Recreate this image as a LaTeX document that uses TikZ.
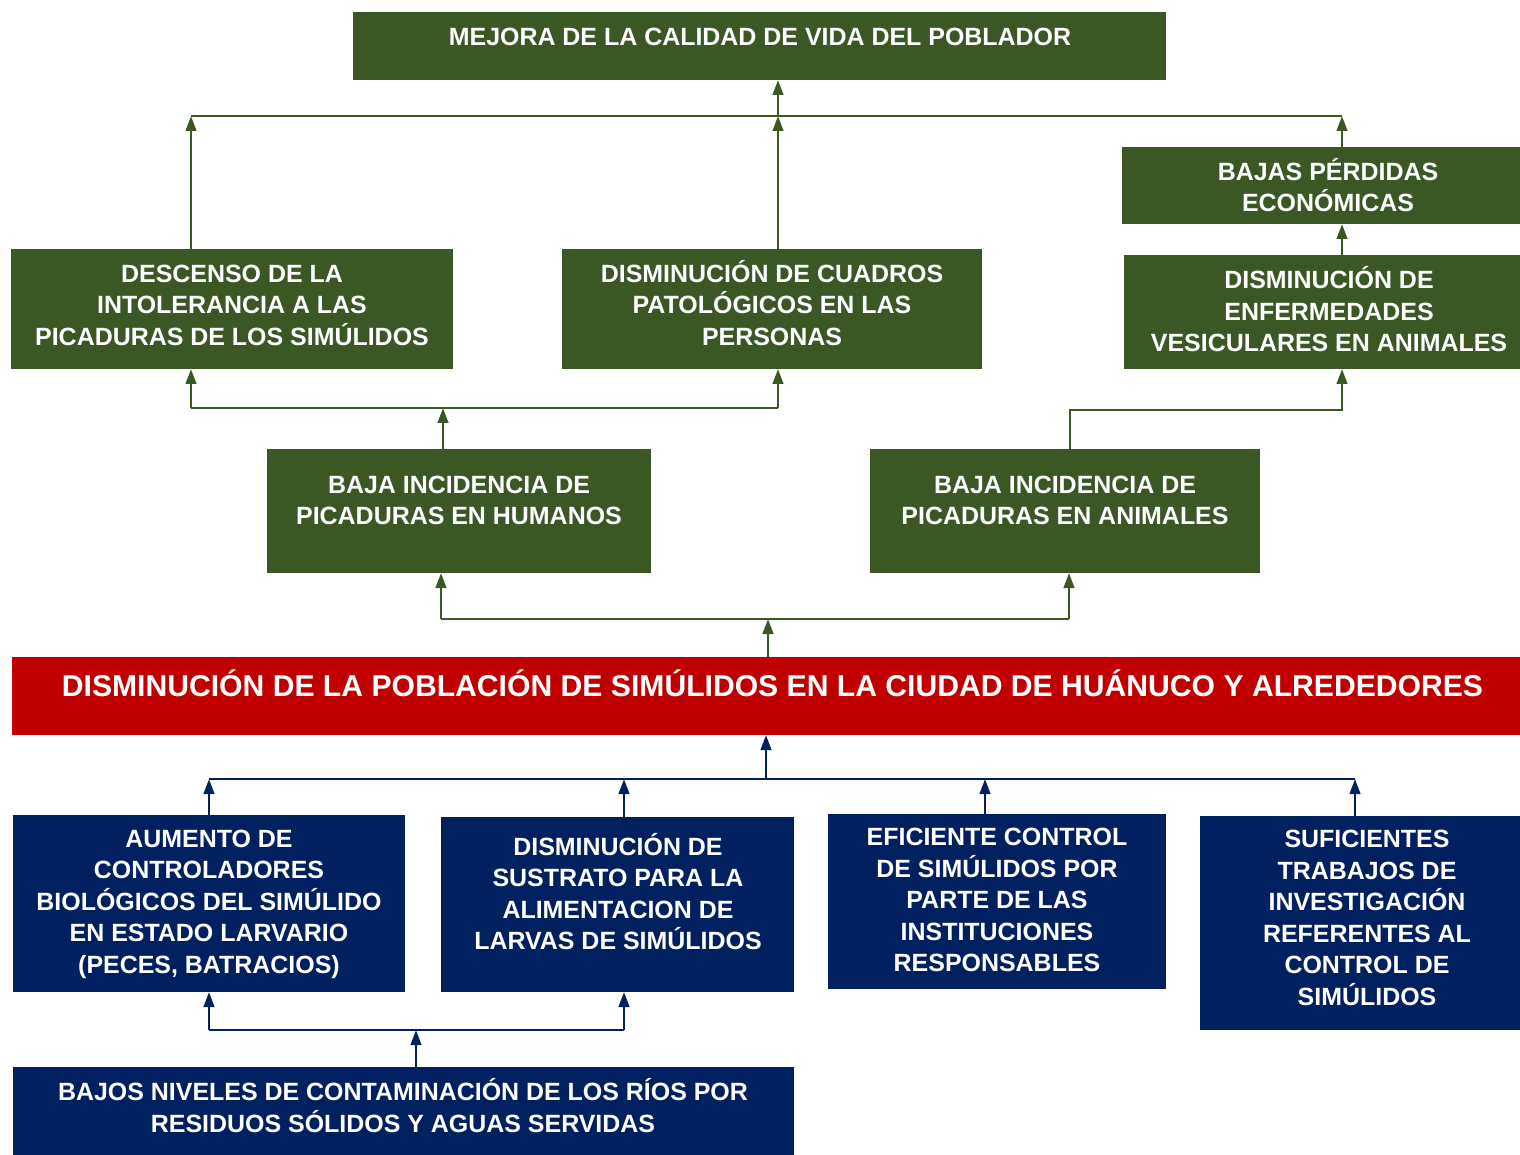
\documentclass[tikz,border=0pt]{standalone}
\usepackage{fontspec}
\setmainfont{Liberation Sans}
\usetikzlibrary{arrows.meta,fit}
\definecolor{grn}{HTML}{3A5724}
\definecolor{nvy}{HTML}{002060}
\definecolor{rd}{HTML}{C00000}
\tikzset{
  box/.style={inner sep=0pt, outer sep=0pt, draw=none},
  gbox/.style={box, fill=grn},
  nbox/.style={box, fill=nvy},
  rbox/.style={box, fill=rd},
  txt/.style={text=white, align=center, inner sep=0pt, font=\fontsize{14.2}{17.9}\selectfont\bfseries},
  bigtxt/.style={text=white, align=center, inner sep=0pt, font=\fontsize{17.15}{21}\selectfont\bfseries},
  gline/.style={draw=grn, line width=1.5pt},
  nline/.style={draw=nvy, line width=1.5pt},
  garr/.style={gline, -{Triangle[length=0.3cm,width=0.21cm]}},
  narr/.style={nline, -{Triangle[length=0.3cm,width=0.21cm]}}
}
\begin{document}
\begin{tikzpicture}[x=0.02cm,y=-0.02cm]
\useasboundingbox (0,0) rectangle (1520,1155);
% boxes
\node[gbox, fit={(353,12) (1166,80)}] (mejora) {};
\node[gbox, fit={(11,249) (453,369)}] (descenso) {};
\node[gbox, fit={(562,249) (982,369)}] (cuadros) {};
\node[gbox, fit={(1122,147) (1520,224)}] (bajas) {};
\node[gbox, fit={(1124,255) (1520,369)}] (enferm) {};
\node[gbox, fit={(267,449) (651,573)}] (humanos) {};
\node[gbox, fit={(870,449) (1260,573)}] (animales) {};
\node[rbox, fit={(12,657) (1520,735)}] (red) {};
\node[nbox, fit={(13,815) (405,992)}] (aumento) {};
\node[nbox, fit={(441,817) (794,992)}] (sustrato) {};
\node[nbox, fit={(828,814) (1166,989)}] (eficiente) {};
\node[nbox, fit={(1200,816) (1520,1030)}] (suficientes) {};
\node[nbox, fit={(13,1067) (794,1155)}] (bajos) {};
% texts
\node[txt] (tmejora) at (760,37) {MEJORA DE LA CALIDAD DE VIDA DEL POBLADOR};
\node[txt] (tdescenso) at (232,305) {DESCENSO DE LA\\INTOLERANCIA A LAS\\PICADURAS DE LOS SIMÚLIDOS};
\node[txt] (tcuadros) at (772,303) {DISMINUCIÓN DE CUADROS\\PATOLÓGICOS EN LAS\\PERSONAS};
\node[txt] (tbajas) at (1328,185) {BAJAS PÉRDIDAS\\ECONÓMICAS};
\node[txt] (tenferm) at (1329,309.5) {DISMINUCIÓN DE\\ENFERMEDADES\\VESICULARES EN ANIMALES};
\node[txt] (thumanos) at (459,500.5) {BAJA INCIDENCIA DE\\PICADURAS EN HUMANOS};
\node[txt] (tanimales) at (1065,500.5) {BAJA INCIDENCIA DE\\PICADURAS EN ANIMALES};
\node[bigtxt] (tred) at (772.5,683) {DISMINUCIÓN DE LA POBLACIÓN DE SIMÚLIDOS EN LA CIUDAD DE HUÁNUCO Y ALREDEDORES};
\node[txt] (taumento) at (209,904) {AUMENTO DE\\CONTROLADORES\\BIOLÓGICOS DEL SIMÚLIDO\\EN ESTADO LARVARIO\\(PECES, BATRACIOS)};
\node[txt] (tsustrato) at (618,891.5) {DISMINUCIÓN DE\\SUSTRATO PARA LA\\ALIMENTACION DE\\LARVAS DE SIMÚLIDOS};
\node[txt] (teficiente) at (997,900) {EFICIENTE CONTROL\\DE SIMÚLIDOS POR\\PARTE DE LAS\\INSTITUCIONES\\RESPONSABLES};
\node[txt] (tsuficientes) at (1367,918) {SUFICIENTES\\TRABAJOS DE\\INVESTIGACIÓN\\REFERENTES AL\\CONTROL DE\\SIMÚLIDOS};
\node[txt] (tbajos) at (403,1105.5) {BAJOS NIVELES DE CONTAMINACIÓN DE LOS RÍOS POR\\RESIDUOS SÓLIDOS Y AGUAS SERVIDAS};
% junction coordinates
\coordinate (jg1) at (191,116);
\coordinate (jg2) at (778,116);
\coordinate (jg3) at (1342,116);
\coordinate (jh) at (443,408);
\coordinate (jhl) at (191,408);
\coordinate (jhr) at (778,408);
\coordinate (ja1) at (1070,410);
\coordinate (ja2) at (1342,410);
\coordinate (jr) at (768,619);
\coordinate (jrl) at (441,619);
\coordinate (jrr) at (1069,619);
\coordinate (jn) at (766,779);
\coordinate (jn1) at (209,779);
\coordinate (jn2) at (624,779);
\coordinate (jn3) at (985,779);
\coordinate (jn4) at (1355,779);
\coordinate (jb) at (416,1030);
\coordinate (jb1) at (209,1030);
\coordinate (jb2) at (624,1030);
% green connectors
\draw[gline] (jg1) -- (jg3);
\draw[garr] (descenso.north -| jg1) -- (jg1);
\draw[garr] (cuadros.north -| jg2) -- (jg2);
\draw[garr] (jg2) -- (mejora.south -| jg2);
\draw[garr] (bajas.north -| jg3) -- (jg3);
\draw[garr] (enferm.north -| jg3) -- (bajas.south -| jg3);
\draw[gline] (jhl) -- (jhr);
\draw[garr] (jhl) -- (descenso.south -| jhl);
\draw[garr] (jhr) -- (cuadros.south -| jhr);
\draw[garr] (humanos.north -| jh) -- (jh);
\draw[garr] (animales.north -| ja1) -- (ja1) -- (ja2) -- (enferm.south -| ja2);
\draw[gline] (jrl) -- (jrr);
\draw[garr] (red.north -| jr) -- (jr);
\draw[garr] (jrl) -- (humanos.south -| jrl);
\draw[garr] (jrr) -- (animales.south -| jrr);
% navy connectors
\draw[nline] (jn1) -- (jn4);
\draw[narr] (jn) -- (red.south -| jn);
\draw[narr] (aumento.north -| jn1) -- (jn1);
\draw[narr] (sustrato.north -| jn2) -- (jn2);
\draw[narr] (eficiente.north -| jn3) -- (jn3);
\draw[narr] (suficientes.north -| jn4) -- (jn4);
\draw[nline] (jb1) -- (jb2);
\draw[narr] (jb1) -- (aumento.south -| jb1);
\draw[narr] (jb2) -- (sustrato.south -| jb2);
\draw[narr] (bajos.north -| jb) -- (jb);
\end{tikzpicture}
\end{document}
